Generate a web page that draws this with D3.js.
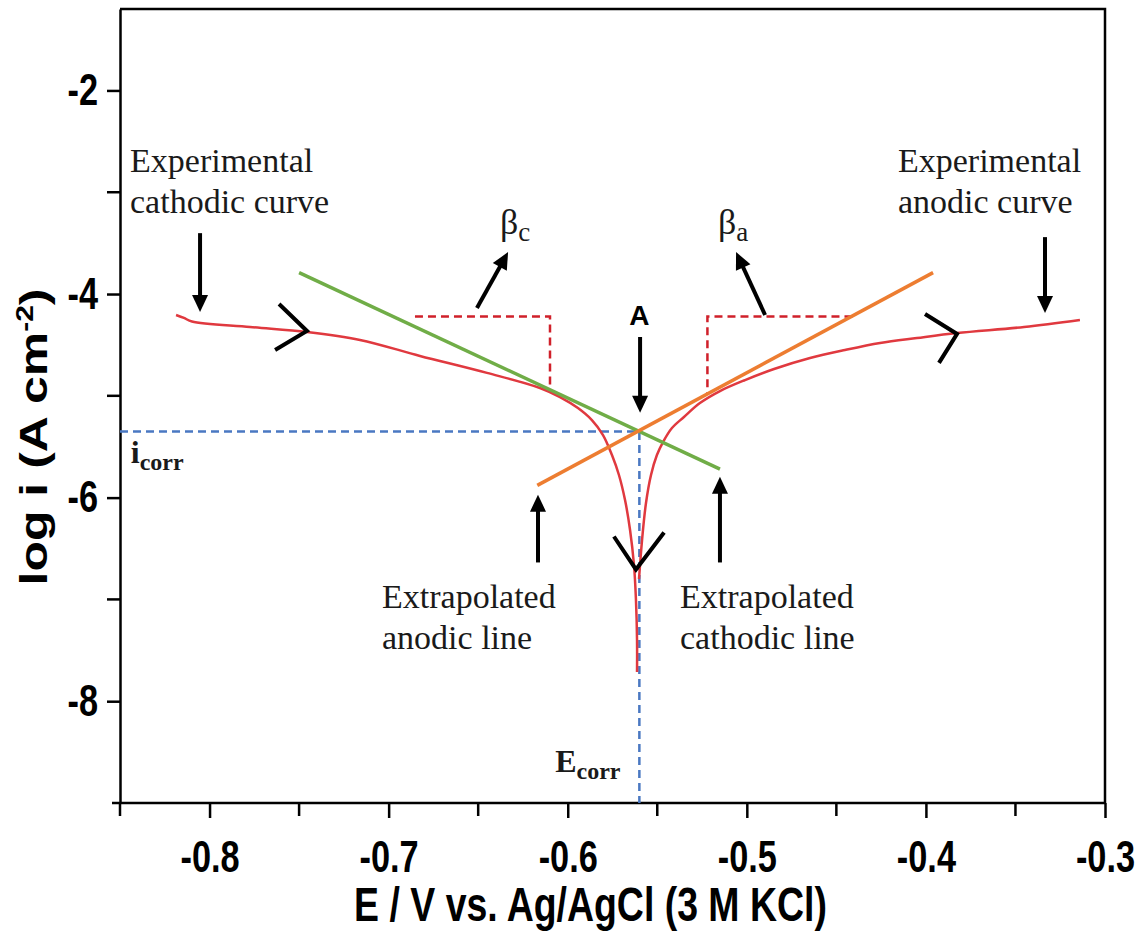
<!DOCTYPE html>
<html>
<head>
<meta charset="utf-8">
<title>Tafel plot</title>
<style>
  body { margin: 0; background: #fff; }
  .axis path, .axis line { stroke: #000; stroke-width: 2.5; }
  .axis text { font-family: "Liberation Sans", Arial, sans-serif; font-weight: bold; font-size: 44px; fill: #000; }
  .title { font-family: "Liberation Sans", Arial, sans-serif; font-weight: bold; font-size: 48px; fill: #000; }
  .note { font-family: "Liberation Serif", "Times New Roman", serif; font-size: 34px; fill: #1a1a1a; }
</style>
</head>
<body>
<div id="chart"></div>
<script src="https://cdn.jsdelivr.net/npm/d3@7/dist/d3.min.js"></script>
<script>
(function(d3) {
  'use strict';

  // experimental curve (E in V, log i)
  var cathodicE    = [-0.8187, -0.8143, -0.8098, -0.7774, -0.7456, -0.7160, -0.6825, -0.6451, -0.6155, -0.6043, -0.5943, -0.5865, -0.5803, -0.5753, -0.5714, -0.5680, -0.5652, -0.5630, -0.5619, -0.5613, -0.5613];
  var cathodicLogI = [-4.206, -4.235, -4.270, -4.324, -4.373, -4.451, -4.608, -4.775, -4.923, -5.012, -5.120, -5.238, -5.385, -5.582, -5.778, -6.024, -6.318, -6.662, -7.006, -7.399, -7.713];
  var anodicE      = [-0.5602, -0.5585, -0.5563, -0.5535, -0.5502, -0.5468, -0.5418, -0.5351, -0.5262, -0.5150, -0.5010, -0.4848, -0.4647, -0.4452, -0.4256, -0.4050, -0.3826, -0.3452, -0.3140];
  var anodicLogI   = [-6.800, -6.417, -6.053, -5.778, -5.582, -5.454, -5.316, -5.208, -5.071, -4.953, -4.845, -4.737, -4.629, -4.550, -4.481, -4.432, -4.383, -4.324, -4.255];

  // extrapolated Tafel lines (end points)
  var cathLineE = [-0.750, -0.515];
  var cathLineLogI = [-3.79, -5.72];
  var anLineE = [-0.617, -0.396];
  var anLineLogI = [-5.88, -3.79];

  var eCorr = -0.56;
  var logICorr = -5.35;

  // slope triangles (dashed)
  var betaCE = [-0.6853, -0.6099, -0.6099];
  var betaCLogI = [-4.22, -4.22, -4.94];
  var betaAE = [-0.441, -0.522, -0.522];
  var betaALogI = [-4.22, -4.22, -4.98];

  var xTicks = [-0.8, -0.7, -0.6, -0.5, -0.4, -0.3];
  var xMinor = [-0.85, -0.75, -0.65, -0.55, -0.45, -0.35];
  var yTicks = [-2, -4, -6, -8];
  var yMinor = [-3, -5, -7];

  // annotation arrows [E0, logI0, E1, logI1] (tail -> tip)
  var arrows = [
    [-0.8053, -3.402, -0.8053, -4.176],
    [-0.6507, -4.137, -0.6333, -3.588],
    [-0.5596, -4.422, -0.5596, -5.167],
    [-0.4898, -4.206, -0.5060, -3.588],
    [-0.3335, -3.441, -0.3335, -4.186],
    [-0.6166, -6.637, -0.6166, -5.971],
    [-0.5150, -6.637, -0.5150, -5.794]
  ];
  // open chevrons showing scan direction [armE, armLogI, vertexE, vertexLogI, armE, armLogI]
  var chevrons = [
    [-0.7612, -4.098, -0.7456, -4.363, -0.7634, -4.549],
    [-0.4005, -4.196, -0.3826, -4.392, -0.3927, -4.676],
    [-0.5742, -6.382, -0.5619, -6.706, -0.5462, -6.343]
  ];

  var width = 1140, height = 931;
  var margin = {top: 9, right: 35, bottom: 128, left: 120};
  var squeeze = 0.78;   // sans labels in the figure are narrow

  var svg = d3.select('#chart').append('svg')
    .attr('width', width)
    .attr('height', height);

  var x = d3.scaleLinear().domain([-0.85, -0.3]).range([margin.left, width - margin.right]);
  var y = d3.scaleLinear().domain([-9, -1.2]).range([height - margin.bottom, margin.top]);

  // frame top + right
  svg.append('path')
    .attr('d', 'M' + x.range()[0] + ',' + y(-1.2) + 'H' + x(-0.3) + 'V' + y(-9))
    .attr('fill', 'none').attr('stroke', '#000').attr('stroke-width', 2.5);

  // axes
  var gx = svg.append('g').attr('class', 'axis')
    .attr('transform', 'translate(0,' + y(-9) + ')')
    .call(d3.axisBottom(x).tickValues(xTicks).tickSize(15).tickSizeOuter(0).tickPadding(23));
  gx.selectAll('.minor').data(xMinor).enter().append('line')
    .attr('x1', function(d) { return x(d); }).attr('x2', function(d) { return x(d); })
    .attr('y1', 0).attr('y2', 13).attr('stroke', '#000').attr('stroke-width', 2.5);
  gx.select('.domain').attr('d', 'M' + (x.range()[0] - 8) + ',0H' + x.range()[1]);
  gx.selectAll('.tick text')
    .text(function(d) { return d3.format('.1f')(d).replace('\u2212', '-'); })
    .attr('transform', 'scale(' + squeeze + ',1)');

  var gy = svg.append('g').attr('class', 'axis')
    .attr('transform', 'translate(' + x(-0.85) + ',0)')
    .call(d3.axisLeft(y).tickValues(yTicks).tickSize(13).tickSizeOuter(0).tickPadding(8));
  gy.selectAll('.minor').data(yMinor).enter().append('line')
    .attr('y1', function(d) { return y(d); }).attr('y2', function(d) { return y(d); })
    .attr('x1', 0).attr('x2', -13).attr('stroke', '#000').attr('stroke-width', 2.5);
  gy.selectAll('.tick text')
    .text(function(d) { return d3.format('d')(d).replace('\u2212', '-'); })
    .attr('x', 0)
    .attr('transform', 'translate(-22,0) scale(' + squeeze + ',1)');

  // axis titles
  svg.append('text').attr('class', 'title')
    .attr('transform', 'translate(' + ((x.range()[0] + x.range()[1]) / 2 - 22) + ',921) scale(' + squeeze + ',1)')
    .attr('text-anchor', 'middle')
    .text('E / V vs. Ag/AgCl (3 M KCl)');

  var yt = svg.append('text').attr('class', 'title')
    .attr('transform', 'translate(47,437) scale(' + squeeze + ',1) rotate(-90)')
    .attr('text-anchor', 'middle')
    .style('font-size', '50px');
  yt.append('tspan').text('log i (A cm');
  yt.append('tspan').attr('dy', -18).style('font-size', '30px').text('-2');
  yt.append('tspan').attr('dy', 18).text(')');

  var line = d3.line()
    .x(function(d) { return x(d[0]); })
    .y(function(d) { return y(d[1]); });
  var smooth = d3.line()
    .x(function(d) { return x(d[0]); })
    .y(function(d) { return y(d[1]); })
    .curve(d3.curveCatmullRom.alpha(0.5));

  // corrosion guide lines
  svg.append('path')
    .attr('d', line([[-0.85, logICorr], [eCorr, logICorr], [eCorr, -9]]))
    .attr('fill', 'none').attr('stroke', '#4a78c2').attr('stroke-width', 2.5)
    .attr('stroke-dasharray', '8,5');

  // dashed slope triangles
  [[betaCE, betaCLogI], [betaAE, betaALogI]].forEach(function(t) {
    svg.append('path')
      .attr('d', line(d3.zip(t[0], t[1])))
      .attr('fill', 'none').attr('stroke', '#d0202a').attr('stroke-width', 2.5)
      .attr('stroke-dasharray', '8,5');
  });

  // experimental curve
  svg.append('path')
    .attr('d', smooth(d3.zip(cathodicE, cathodicLogI)))
    .attr('fill', 'none').attr('stroke', '#e0393f').attr('stroke-width', 2.5);
  svg.append('path')
    .attr('d', smooth(d3.zip(anodicE, anodicLogI)))
    .attr('fill', 'none').attr('stroke', '#e0393f').attr('stroke-width', 2.5);

  // Tafel lines
  svg.append('path')
    .attr('d', line(d3.zip(cathLineE, cathLineLogI)))
    .attr('fill', 'none').attr('stroke', '#70ad47').attr('stroke-width', 3.5);
  svg.append('path')
    .attr('d', line(d3.zip(anLineE, anLineLogI)))
    .attr('fill', 'none').attr('stroke', '#ed7d31').attr('stroke-width', 3.5);

  // arrows
  var headLen = 17, headW = 8;
  arrows.forEach(function(a) {
    var x0 = x(a[0]), y0 = y(a[1]), x1 = x(a[2]), y1 = y(a[3]);
    var len = Math.hypot(x1 - x0, y1 - y0);
    var ux = (x1 - x0) / len, uy = (y1 - y0) / len;
    var bx = x1 - ux * headLen, by = y1 - uy * headLen;
    svg.append('line')
      .attr('x1', x0).attr('y1', y0).attr('x2', bx + ux * 2).attr('y2', by + uy * 2)
      .attr('stroke', '#000').attr('stroke-width', 4);
    svg.append('path')
      .attr('d', 'M' + x1 + ',' + y1 +
        'L' + (bx - uy * headW) + ',' + (by + ux * headW) +
        'L' + (bx + uy * headW) + ',' + (by - ux * headW) + 'Z')
      .attr('fill', '#000');
  });

  chevrons.forEach(function(c) {
    svg.append('path')
      .attr('d', line([[c[0], c[1]], [c[2], c[3]], [c[4], c[5]]]))
      .attr('fill', 'none').attr('stroke', '#000').attr('stroke-width', 4);
  });

  // annotations
  function note(lines, e, l) {
    var t = svg.append('text').attr('class', 'note')
      .attr('x', x(e)).attr('y', y(l));
    lines.forEach(function(s, i) {
      t.append('tspan').attr('x', x(e)).attr('dy', i ? 41 : 0).text(s);
    });
  }
  note(['Experimental', 'cathodic curve'], -0.8444, -2.80);
  note(['Experimental', 'anodic curve'], -0.4156, -2.80);
  note(['Extrapolated', 'anodic line'], -0.7037, -7.08);
  note(['Extrapolated', 'cathodic line'], -0.5373, -7.08);

  function sub(main, small, e, l, mainSize, subSize, weight) {
    var t = svg.append('text').attr('class', 'note')
      .attr('x', x(e)).attr('y', y(l))
      .style('font-size', mainSize + 'px')
      .style('font-weight', weight || 'normal');
    t.append('tspan').text(main);
    t.append('tspan').attr('dy', 7).style('font-size', subSize + 'px').text(small);
  }
  sub('\u03b2', 'c', -0.6378, -3.41, 36, 27);
  sub('\u03b2', 'a', -0.5161, -3.41, 36, 27);
  sub('i', 'corr', -0.8440, -5.66, 32, 24, 'bold');
  sub('E', 'corr', -0.6070, -8.70, 32, 24, 'bold');

  svg.append('text').attr('class', 'title')
    .attr('x', x(eCorr)).attr('y', y(-4.3))
    .attr('text-anchor', 'middle').style('font-size', '28px')
    .text('A');

})(window.d3);
</script>
</body>
</html>
